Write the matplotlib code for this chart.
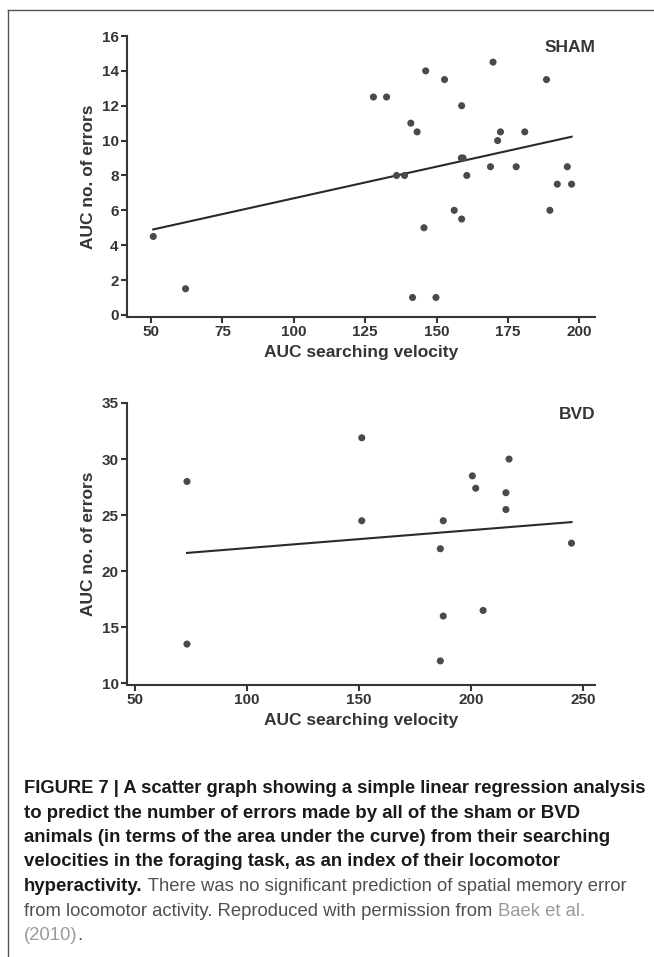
import numpy as np
import matplotlib.pyplot as plt
from matplotlib.lines import Line2D

# sham group
sham_vel = [50.8, 62.1, 127.9, 132.5, 146.2, 152.8, 169.8, 188.5, 158.8, 141.0,
            143.2, 172.4, 180.9, 171.4, 159.3, 158.7, 168.9, 177.9, 195.8, 136.0,
            138.8, 160.6, 192.3, 197.3, 156.2, 158.8, 189.7, 145.6, 141.6, 149.8]
sham_err = [4.5, 1.5, 12.5, 12.5, 14.0, 13.5, 14.5, 13.5, 12.0, 11.0,
            10.5, 10.5, 10.5, 10.0, 9.0, 9.0, 8.5, 8.5, 8.5, 8.0,
            8.0, 8.0, 7.5, 7.5, 6.0, 5.5, 6.0, 5.0, 1.0, 1.0]
sham_fit = (3.06, 0.0363)  # intercept, slope

# BVD group
bvd_vel = [73.1, 73.1, 151.2, 151.2, 187.6, 186.3, 187.6, 186.3, 200.6, 202.1,
           205.4, 217.0, 215.6, 215.6, 244.9]
bvd_err = [28.0, 13.5, 31.9, 24.5, 24.5, 22.0, 16.0, 12.0, 28.5, 27.4,
           16.5, 30.0, 27.0, 25.5, 22.5]
bvd_fit = (20.46, 0.016)

sham_xticks = [50, 75, 100, 125, 150, 175, 200]
sham_yticks = [0, 2, 4, 6, 8, 10, 12, 14, 16]
bvd_xticks = [50, 100, 150, 200, 250]
bvd_yticks = [10, 15, 20, 25, 30, 35]

W, H = 654, 957
fig = plt.figure(figsize=(W / 100, H / 100), dpi=100)
dark = '#353535'


def panel(rect, xs, ys, fit, xlim, ylim, xt, yt, tag):
    ax = fig.add_axes(rect)
    ax.scatter(xs, ys, s=26, color='#4a4a4a', edgecolors='none', zorder=3)
    lx = np.array([min(xs), max(xs)])
    ax.plot(lx, fit[0] + fit[1] * lx, color='#2a2a2a', lw=1.5, zorder=2)
    ax.set_xlim(*xlim)
    ax.set_ylim(*ylim)
    ax.set_xticks(xt)
    ax.set_yticks(yt)
    for s in ['top', 'right']:
        ax.spines[s].set_visible(False)
    for s in ['left', 'bottom']:
        ax.spines[s].set_linewidth(1.5)
        ax.spines[s].set_color(dark)
    ax.spines['left'].set_bounds(ylim[0], yt[-1])
    ax.tick_params(length=4, width=1.5, color=dark, labelcolor=dark,
                   labelsize=11, pad=2)
    for lab in ax.get_xticklabels() + ax.get_yticklabels():
        lab.set_fontweight('bold')
        lab.set_family('Liberation Sans')
    ax.set_xlabel('AUC searching velocity', fontsize=12.5, fontweight='bold',
                  family='Liberation Sans', color=dark, labelpad=4)
    ax.set_ylabel('AUC no. of errors', fontsize=12.5, fontweight='bold',
                  family='Liberation Sans', color=dark, labelpad=4)
    ax.text(1.0, 0.985, tag, transform=ax.transAxes, ha='right', va='top',
            fontsize=12.5, fontweight='bold', family='Liberation Sans', color=dark)
    return ax


panel([127 / W, 1 - 317 / H, 468 / W, 281 / H], sham_vel, sham_err, sham_fit,
      (41.6, 205.5), (-0.12, 16), sham_xticks, sham_yticks, 'SHAM')
panel([127 / W, 1 - 685 / H, 468 / W, 282 / H], bvd_vel, bvd_err, bvd_fit,
      (46.3, 255.4), (9.85, 35), bvd_xticks, bvd_yticks, 'BVD')

# frame lines
fig.add_artist(Line2D([8 / W, 1], [1 - 10 / H, 1 - 10 / H], color='#555555', lw=1))
fig.add_artist(Line2D([8 / W, 8 / W], [0, 1 - 10 / H], color='#555555', lw=1))

# caption
bold = dict(family='Liberation Sans', fontweight='bold', color='#1a1a1a', fontsize=13.4)
reg = dict(family='Liberation Sans', fontweight='normal', color='#505050', fontsize=13.3)
light = dict(reg, color='#9a9a9a')

caption = [
    [('FIGURE 7 | A scatter graph showing a simple linear regression analysis', bold)],
    [('to predict the number of errors made by all of the sham or BVD', bold)],
    [('animals (in terms of the area under the curve) from their searching', bold)],
    [('velocities in the foraging task, as an index of their locomotor', bold)],
    [('hyperactivity.', bold), (' There was no significant prediction of spatial memory error', reg)],
    [('from locomotor activity. Reproduced with permission from ', reg), ('Baek et al.', light)],
    [('(2010)', light), ('.', reg)],
]

fig.canvas.draw()
r = fig.canvas.get_renderer()
x_left, x_max = 24, 646
y0 = 793
for i, segs in enumerate(caption):
    x = x_left
    y = y0 + i * 24.5
    for txt, st in segs:
        t = fig.text(x / W, 1 - y / H, txt, va='baseline', ha='left', **st)
        ext = t.get_window_extent(r)
        if ext.x1 > x_max and len(segs) == 1:
            # squeeze an over-long line back into the frame
            t.set_fontsize(st['fontsize'] * (x_max - x) / (ext.x1 - x))
            ext = t.get_window_extent(r)
        x = ext.x1

fig.savefig('out.png', dpi=100)
